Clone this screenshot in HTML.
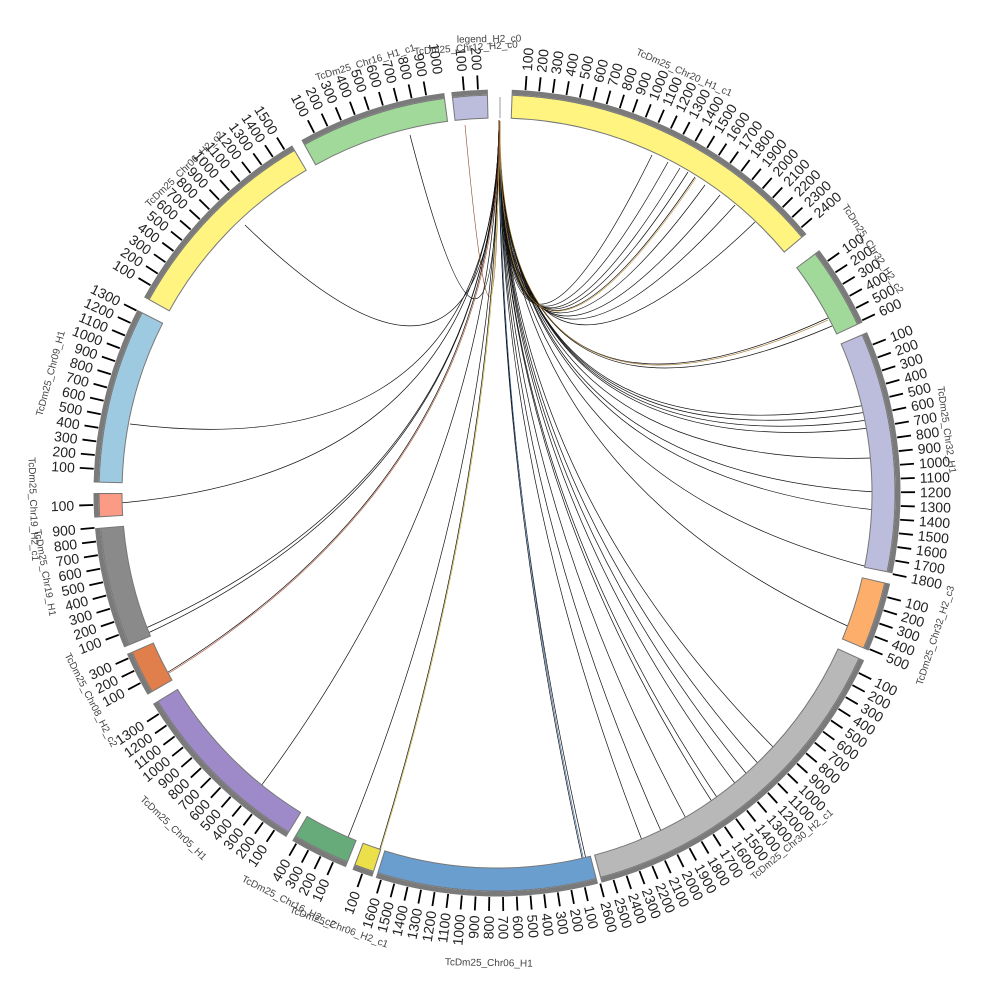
<!DOCTYPE html>
<html><head><meta charset="utf-8"><style>
html,body{margin:0;padding:0;background:#fff;width:1000px;height:1000px;overflow:hidden}
svg{display:block}
.n{font:14px "Liberation Sans",sans-serif;fill:#222}
.c{font:10px "Liberation Sans",sans-serif;fill:#444}
.l{fill:none;stroke:#111;stroke-width:0.7}
.lc{fill:none;stroke-width:0.6}
</style></head><body>
<svg width="1000" height="1000" viewBox="0 0 1000 1000" xmlns="http://www.w3.org/2000/svg">
<g>
<path class="l" d="M499 120 Q497 470 652 155"/>
<path class="l" d="M499 120 Q497 470 668 162"/>
<path class="l" d="M499 120 Q497 470 680 168"/>
<path class="l" d="M499 120 Q497 470 688 172"/>
<path class="l" d="M499 120 Q497 470 695 177"/>
<path class="l" d="M499 120 Q497 470 705 185"/>
<path class="l" d="M499 120 Q497 470 720 195"/>
<path class="l" d="M499 120 Q497 470 735 205"/>
<path class="l" d="M499 120 Q497 470 755 222"/>
<path class="l" d="M499 120 Q497 470 828 318"/>
<path class="l" d="M499 120 Q497 470 832 326"/>
<path class="l" d="M499 120 Q497 470 866 405"/>
<path class="l" d="M499 120 Q497 470 867 412"/>
<path class="l" d="M499 120 Q497 470 868 420"/>
<path class="l" d="M499 120 Q497 470 870 428"/>
<path class="l" d="M499 120 Q497 470 873 458"/>
<path class="l" d="M499 120 Q497 470 876 492"/>
<path class="l" d="M499 120 Q497 470 876 510"/>
<path class="l" d="M499 120 Q497 470 868 567"/>
<path class="l" d="M499 120 Q497 470 852 628"/>
<path class="l" d="M499 120 Q497 470 778 752"/>
<path class="l" d="M499 120 Q497 470 762 768"/>
<path class="l" d="M499 120 Q497 470 750 778"/>
<path class="l" d="M499 120 Q497 470 740 790"/>
<path class="l" d="M499 120 Q497 470 722 805"/>
<path class="l" d="M499 120 Q497 470 716 808"/>
<path class="l" d="M499 120 Q497 470 690 826"/>
<path class="l" d="M499 120 Q497 470 665 840"/>
<path class="l" d="M499 120 Q497 470 645 848"/>
<path class="l" d="M499 120 Q497 470 588 868"/>
<path class="l" d="M499 120 Q497 470 584 867"/>
<path class="l" d="M499 120 Q497 470 410 135"/>
<path class="l" d="M499 120 Q497 470 245 225"/>
<path class="l" d="M499 120 Q497 470 130 424"/>
<path class="l" d="M499 120 Q497 470 120 503"/>
<path class="l" d="M499 120 Q497 470 146 628"/>
<path class="l" d="M499 120 Q497 470 148 633"/>
<path class="l" d="M499 120 Q497 470 165 674"/>
<path class="l" d="M499 120 Q497 470 258 790"/>
<path class="l" d="M499 120 Q497 470 345 845"/>
<path class="l" d="M499 120 Q497 470 378 855"/>
<path class="lc" stroke="#8b4a2b" stroke-width="1.5" d="M499 120 Q497 470 465 125"/>
<path class="lc" stroke="#c8b030" d="M500 121 Q498 470 379 855"/>
<path class="lc" stroke="#b05030" d="M500 121 Q498 470 166 675"/>
<path class="lc" stroke="#3060a0" d="M500 121 Q498 470 585 866"/>
<path class="lc" stroke="#a07020" d="M500 121 Q498 470 828 320"/>
<path class="lc" stroke="#c09030" d="M500 121 Q498 470 696 178"/>
</g>
<line x1="500" y1="97" x2="500" y2="118" stroke="#999" stroke-width="1"/>
<g fill="none">
<g transform="rotate(-87.9 497 493)"><circle cx="497" cy="493" r="386.5" pathLength="360" stroke="#777" stroke-width="24" stroke-dasharray="48 400"/><circle cx="497" cy="493" r="386.5" pathLength="360" stroke="#fff480" stroke-width="22" stroke-dasharray="47.7 400" stroke-dashoffset="-0.15"/><circle cx="497" cy="493" r="401" pathLength="360" stroke="#7a7a7a" stroke-width="5" stroke-dasharray="48 400"/><circle cx="497" cy="493" r="411" pathLength="360" stroke="#000" stroke-width="14" stroke-dasharray="0 1.825 0.25 1.7 0.25 1.7 0.25 1.7 0.25 1.7 0.25 1.7 0.25 1.7 0.25 1.7 0.25 1.7 0.25 1.7 0.25 1.7 0.25 1.7 0.25 1.7 0.25 1.7 0.25 1.7 0.25 1.7 0.25 1.7 0.25 1.7 0.25 1.7 0.25 1.7 0.25 1.7 0.25 1.7 0.25 1.7 0.25 1.7 0.25 400"/></g>
<g transform="rotate(-37 497 493)"><circle cx="497" cy="493" r="386.5" pathLength="360" stroke="#777" stroke-width="24" stroke-dasharray="12 400"/><circle cx="497" cy="493" r="386.5" pathLength="360" stroke="#a1d99b" stroke-width="22" stroke-dasharray="11.7 400" stroke-dashoffset="-0.15"/><circle cx="497" cy="493" r="401" pathLength="360" stroke="#7a7a7a" stroke-width="5" stroke-dasharray="12 400"/><circle cx="497" cy="493" r="411" pathLength="360" stroke="#000" stroke-width="14" stroke-dasharray="0 1.825 0.25 1.7 0.25 1.7 0.25 1.7 0.25 1.7 0.25 1.7 0.25 400"/></g>
<g transform="rotate(-23.5 497 493)"><circle cx="497" cy="493" r="386.5" pathLength="360" stroke="#777" stroke-width="24" stroke-dasharray="35 400"/><circle cx="497" cy="493" r="386.5" pathLength="360" stroke="#bcbddc" stroke-width="22" stroke-dasharray="34.7 400" stroke-dashoffset="-0.15"/><circle cx="497" cy="493" r="401" pathLength="360" stroke="#7a7a7a" stroke-width="5" stroke-dasharray="35 400"/><circle cx="497" cy="493" r="411" pathLength="360" stroke="#000" stroke-width="14" stroke-dasharray="0 1.825 0.25 1.7 0.25 1.7 0.25 1.7 0.25 1.7 0.25 1.7 0.25 1.7 0.25 1.7 0.25 1.7 0.25 1.7 0.25 1.7 0.25 1.7 0.25 1.7 0.25 1.7 0.25 1.7 0.25 1.7 0.25 1.7 0.25 1.7 0.25 400"/></g>
<g transform="rotate(13 497 493)"><circle cx="497" cy="493" r="386.5" pathLength="360" stroke="#777" stroke-width="24" stroke-dasharray="10 400"/><circle cx="497" cy="493" r="386.5" pathLength="360" stroke="#fdae6b" stroke-width="22" stroke-dasharray="9.7 400" stroke-dashoffset="-0.15"/><circle cx="497" cy="493" r="401" pathLength="360" stroke="#7a7a7a" stroke-width="5" stroke-dasharray="10 400"/><circle cx="497" cy="493" r="411" pathLength="360" stroke="#000" stroke-width="14" stroke-dasharray="0 1.825 0.25 1.7 0.25 1.7 0.25 1.7 0.25 1.7 0.25 400"/></g>
<g transform="rotate(24.5 497 493)"><circle cx="497" cy="493" r="386.5" pathLength="360" stroke="#777" stroke-width="24" stroke-dasharray="50.5 400"/><circle cx="497" cy="493" r="386.5" pathLength="360" stroke="#b8b8b8" stroke-width="22" stroke-dasharray="50.2 400" stroke-dashoffset="-0.15"/><circle cx="497" cy="493" r="401" pathLength="360" stroke="#7a7a7a" stroke-width="5" stroke-dasharray="50.5 400"/><circle cx="497" cy="493" r="411" pathLength="360" stroke="#000" stroke-width="14" stroke-dasharray="0 1.825 0.25 1.7 0.25 1.7 0.25 1.7 0.25 1.7 0.25 1.7 0.25 1.7 0.25 1.7 0.25 1.7 0.25 1.7 0.25 1.7 0.25 1.7 0.25 1.7 0.25 1.7 0.25 1.7 0.25 1.7 0.25 1.7 0.25 1.7 0.25 1.7 0.25 1.7 0.25 1.7 0.25 1.7 0.25 1.7 0.25 1.7 0.25 1.7 0.25 1.7 0.25 400"/></g>
<g transform="rotate(75.5 497 493)"><circle cx="497" cy="493" r="386.5" pathLength="360" stroke="#777" stroke-width="24" stroke-dasharray="32 400"/><circle cx="497" cy="493" r="386.5" pathLength="360" stroke="#6a9ecf" stroke-width="22" stroke-dasharray="31.7 400" stroke-dashoffset="-0.15"/><circle cx="497" cy="493" r="401" pathLength="360" stroke="#7a7a7a" stroke-width="5" stroke-dasharray="32 400"/><circle cx="497" cy="493" r="411" pathLength="360" stroke="#000" stroke-width="14" stroke-dasharray="0 1.825 0.25 1.7 0.25 1.7 0.25 1.7 0.25 1.7 0.25 1.7 0.25 1.7 0.25 1.7 0.25 1.7 0.25 1.7 0.25 1.7 0.25 1.7 0.25 1.7 0.25 1.7 0.25 1.7 0.25 1.7 0.25 400"/></g>
<g transform="rotate(108 497 493)"><circle cx="497" cy="493" r="386.5" pathLength="360" stroke="#777" stroke-width="24" stroke-dasharray="3 400"/><circle cx="497" cy="493" r="386.5" pathLength="360" stroke="#ebdf4a" stroke-width="22" stroke-dasharray="2.7 400" stroke-dashoffset="-0.15"/><circle cx="497" cy="493" r="401" pathLength="360" stroke="#7a7a7a" stroke-width="5" stroke-dasharray="3 400"/><circle cx="497" cy="493" r="411" pathLength="360" stroke="#000" stroke-width="14" stroke-dasharray="0 1.375 0.25 400"/></g>
<g transform="rotate(112 497 493)"><circle cx="497" cy="493" r="386.5" pathLength="360" stroke="#777" stroke-width="24" stroke-dasharray="8.5 400"/><circle cx="497" cy="493" r="386.5" pathLength="360" stroke="#66ab79" stroke-width="22" stroke-dasharray="8.2 400" stroke-dashoffset="-0.15"/><circle cx="497" cy="493" r="401" pathLength="360" stroke="#7a7a7a" stroke-width="5" stroke-dasharray="8.5 400"/><circle cx="497" cy="493" r="411" pathLength="360" stroke="#000" stroke-width="14" stroke-dasharray="0 1.825 0.25 1.7 0.25 1.7 0.25 1.7 0.25 400"/></g>
<g transform="rotate(121.5 497 493)"><circle cx="497" cy="493" r="386.5" pathLength="360" stroke="#777" stroke-width="24" stroke-dasharray="27 400"/><circle cx="497" cy="493" r="386.5" pathLength="360" stroke="#9e8ac8" stroke-width="22" stroke-dasharray="26.7 400" stroke-dashoffset="-0.15"/><circle cx="497" cy="493" r="401" pathLength="360" stroke="#7a7a7a" stroke-width="5" stroke-dasharray="27 400"/><circle cx="497" cy="493" r="411" pathLength="360" stroke="#000" stroke-width="14" stroke-dasharray="0 1.825 0.25 1.7 0.25 1.7 0.25 1.7 0.25 1.7 0.25 1.7 0.25 1.7 0.25 1.7 0.25 1.7 0.25 1.7 0.25 1.7 0.25 1.7 0.25 1.7 0.25 400"/></g>
<g transform="rotate(150 497 493)"><circle cx="497" cy="493" r="386.5" pathLength="360" stroke="#777" stroke-width="24" stroke-dasharray="6.5 400"/><circle cx="497" cy="493" r="386.5" pathLength="360" stroke="#e07f4b" stroke-width="22" stroke-dasharray="6.2 400" stroke-dashoffset="-0.15"/><circle cx="497" cy="493" r="401" pathLength="360" stroke="#7a7a7a" stroke-width="5" stroke-dasharray="6.5 400"/><circle cx="497" cy="493" r="411" pathLength="360" stroke="#000" stroke-width="14" stroke-dasharray="0 1.825 0.25 1.7 0.25 1.7 0.25 400"/></g>
<g transform="rotate(157.5 497 493)"><circle cx="497" cy="493" r="386.5" pathLength="360" stroke="#777" stroke-width="24" stroke-dasharray="17.5 400"/><circle cx="497" cy="493" r="386.5" pathLength="360" stroke="#8a8a8a" stroke-width="22" stroke-dasharray="17.2 400" stroke-dashoffset="-0.15"/><circle cx="497" cy="493" r="401" pathLength="360" stroke="#7a7a7a" stroke-width="5" stroke-dasharray="17.5 400"/><circle cx="497" cy="493" r="411" pathLength="360" stroke="#000" stroke-width="14" stroke-dasharray="0 1.825 0.25 1.7 0.25 1.7 0.25 1.7 0.25 1.7 0.25 1.7 0.25 1.7 0.25 1.7 0.25 1.7 0.25 400"/></g>
<g transform="rotate(176.5 497 493)"><circle cx="497" cy="493" r="386.5" pathLength="360" stroke="#777" stroke-width="24" stroke-dasharray="3.5 400"/><circle cx="497" cy="493" r="386.5" pathLength="360" stroke="#fb9a85" stroke-width="22" stroke-dasharray="3.2 400" stroke-dashoffset="-0.15"/><circle cx="497" cy="493" r="401" pathLength="360" stroke="#7a7a7a" stroke-width="5" stroke-dasharray="3.5 400"/><circle cx="497" cy="493" r="411" pathLength="360" stroke="#000" stroke-width="14" stroke-dasharray="0 1.675 0.25 400"/></g>
<g transform="rotate(181.5 497 493)"><circle cx="497" cy="493" r="386.5" pathLength="360" stroke="#777" stroke-width="24" stroke-dasharray="25.5 400"/><circle cx="497" cy="493" r="386.5" pathLength="360" stroke="#9ecae1" stroke-width="22" stroke-dasharray="25.2 400" stroke-dashoffset="-0.15"/><circle cx="497" cy="493" r="401" pathLength="360" stroke="#7a7a7a" stroke-width="5" stroke-dasharray="25.5 400"/><circle cx="497" cy="493" r="411" pathLength="360" stroke="#000" stroke-width="14" stroke-dasharray="0 1.825 0.25 1.7 0.25 1.7 0.25 1.7 0.25 1.7 0.25 1.7 0.25 1.7 0.25 1.7 0.25 1.7 0.25 1.7 0.25 1.7 0.25 1.7 0.25 1.7 0.25 400"/></g>
<g transform="rotate(209 497 493)"><circle cx="497" cy="493" r="386.5" pathLength="360" stroke="#777" stroke-width="24" stroke-dasharray="30.5 400"/><circle cx="497" cy="493" r="386.5" pathLength="360" stroke="#fff480" stroke-width="22" stroke-dasharray="30.2 400" stroke-dashoffset="-0.15"/><circle cx="497" cy="493" r="401" pathLength="360" stroke="#7a7a7a" stroke-width="5" stroke-dasharray="30.5 400"/><circle cx="497" cy="493" r="411" pathLength="360" stroke="#000" stroke-width="14" stroke-dasharray="0 1.825 0.25 1.7 0.25 1.7 0.25 1.7 0.25 1.7 0.25 1.7 0.25 1.7 0.25 1.7 0.25 1.7 0.25 1.7 0.25 1.7 0.25 1.7 0.25 1.7 0.25 1.7 0.25 1.7 0.25 400"/></g>
<g transform="rotate(241 497 493)"><circle cx="497" cy="493" r="386.5" pathLength="360" stroke="#777" stroke-width="24" stroke-dasharray="21.5 400"/><circle cx="497" cy="493" r="386.5" pathLength="360" stroke="#a1d99b" stroke-width="22" stroke-dasharray="21.2 400" stroke-dashoffset="-0.15"/><circle cx="497" cy="493" r="401" pathLength="360" stroke="#7a7a7a" stroke-width="5" stroke-dasharray="21.5 400"/><circle cx="497" cy="493" r="411" pathLength="360" stroke="#000" stroke-width="14" stroke-dasharray="0 1.975 0.25 1.85 0.25 1.85 0.25 1.85 0.25 1.85 0.25 1.85 0.25 1.85 0.25 1.85 0.25 1.85 0.25 400"/></g>
<g transform="rotate(263.5 497 493)"><circle cx="497" cy="493" r="386.5" pathLength="360" stroke="#777" stroke-width="24" stroke-dasharray="5.2 400"/><circle cx="497" cy="493" r="386.5" pathLength="360" stroke="#bcbddc" stroke-width="22" stroke-dasharray="4.9 400" stroke-dashoffset="-0.15"/><circle cx="497" cy="493" r="401" pathLength="360" stroke="#7a7a7a" stroke-width="5" stroke-dasharray="5.2 400"/><circle cx="497" cy="493" r="411" pathLength="360" stroke="#000" stroke-width="14" stroke-dasharray="0 1.675 0.25 1.75 0.25 400"/></g>
</g>
<g class="n">
<text transform="rotate(-85.95 497 493)" x="920" y="498">100</text>
<text transform="rotate(-84 497 493)" x="920" y="498">200</text>
<text transform="rotate(-82.05 497 493)" x="920" y="498">300</text>
<text transform="rotate(-80.1 497 493)" x="920" y="498">400</text>
<text transform="rotate(-78.15 497 493)" x="920" y="498">500</text>
<text transform="rotate(-76.2 497 493)" x="920" y="498">600</text>
<text transform="rotate(-74.25 497 493)" x="920" y="498">700</text>
<text transform="rotate(-72.3 497 493)" x="920" y="498">800</text>
<text transform="rotate(-70.35 497 493)" x="920" y="498">900</text>
<text transform="rotate(-68.4 497 493)" x="920" y="498">1000</text>
<text transform="rotate(-66.45 497 493)" x="920" y="498">1100</text>
<text transform="rotate(-64.5 497 493)" x="920" y="498">1200</text>
<text transform="rotate(-62.55 497 493)" x="920" y="498">1300</text>
<text transform="rotate(-60.6 497 493)" x="920" y="498">1400</text>
<text transform="rotate(-58.65 497 493)" x="920" y="498">1500</text>
<text transform="rotate(-56.7 497 493)" x="920" y="498">1600</text>
<text transform="rotate(-54.75 497 493)" x="920" y="498">1700</text>
<text transform="rotate(-52.8 497 493)" x="920" y="498">1800</text>
<text transform="rotate(-50.85 497 493)" x="920" y="498">1900</text>
<text transform="rotate(-48.9 497 493)" x="920" y="498">2000</text>
<text transform="rotate(-46.95 497 493)" x="920" y="498">2100</text>
<text transform="rotate(-45 497 493)" x="920" y="498">2200</text>
<text transform="rotate(-43.05 497 493)" x="920" y="498">2300</text>
<text transform="rotate(-41.1 497 493)" x="920" y="498">2400</text>
<text transform="rotate(-35.05 497 493)" x="920" y="498">100</text>
<text transform="rotate(-33.1 497 493)" x="920" y="498">200</text>
<text transform="rotate(-31.15 497 493)" x="920" y="498">300</text>
<text transform="rotate(-29.2 497 493)" x="920" y="498">400</text>
<text transform="rotate(-27.25 497 493)" x="920" y="498">500</text>
<text transform="rotate(-25.3 497 493)" x="920" y="498">600</text>
<text transform="rotate(-21.55 497 493)" x="920" y="498">100</text>
<text transform="rotate(-19.6 497 493)" x="920" y="498">200</text>
<text transform="rotate(-17.65 497 493)" x="920" y="498">300</text>
<text transform="rotate(-15.7 497 493)" x="920" y="498">400</text>
<text transform="rotate(-13.75 497 493)" x="920" y="498">500</text>
<text transform="rotate(-11.8 497 493)" x="920" y="498">600</text>
<text transform="rotate(-9.85 497 493)" x="920" y="498">700</text>
<text transform="rotate(-7.9 497 493)" x="920" y="498">800</text>
<text transform="rotate(-5.95 497 493)" x="920" y="498">900</text>
<text transform="rotate(-4 497 493)" x="920" y="498">1000</text>
<text transform="rotate(-2.05 497 493)" x="920" y="498">1100</text>
<text transform="rotate(-0.1 497 493)" x="920" y="498">1200</text>
<text transform="rotate(1.85 497 493)" x="920" y="498">1300</text>
<text transform="rotate(3.8 497 493)" x="920" y="498">1400</text>
<text transform="rotate(5.75 497 493)" x="920" y="498">1500</text>
<text transform="rotate(7.7 497 493)" x="920" y="498">1600</text>
<text transform="rotate(9.65 497 493)" x="920" y="498">1700</text>
<text transform="rotate(11.6 497 493)" x="920" y="498">1800</text>
<text transform="rotate(14.95 497 493)" x="920" y="498">100</text>
<text transform="rotate(16.9 497 493)" x="920" y="498">200</text>
<text transform="rotate(18.85 497 493)" x="920" y="498">300</text>
<text transform="rotate(20.8 497 493)" x="920" y="498">400</text>
<text transform="rotate(22.75 497 493)" x="920" y="498">500</text>
<text transform="rotate(26.45 497 493)" x="920" y="498">100</text>
<text transform="rotate(28.4 497 493)" x="920" y="498">200</text>
<text transform="rotate(30.35 497 493)" x="920" y="498">300</text>
<text transform="rotate(32.3 497 493)" x="920" y="498">400</text>
<text transform="rotate(34.25 497 493)" x="920" y="498">500</text>
<text transform="rotate(36.2 497 493)" x="920" y="498">600</text>
<text transform="rotate(38.15 497 493)" x="920" y="498">700</text>
<text transform="rotate(40.1 497 493)" x="920" y="498">800</text>
<text transform="rotate(42.05 497 493)" x="920" y="498">900</text>
<text transform="rotate(44 497 493)" x="920" y="498">1000</text>
<text transform="rotate(45.95 497 493)" x="920" y="498">1100</text>
<text transform="rotate(47.9 497 493)" x="920" y="498">1200</text>
<text transform="rotate(49.85 497 493)" x="920" y="498">1300</text>
<text transform="rotate(51.8 497 493)" x="920" y="498">1400</text>
<text transform="rotate(53.75 497 493)" x="920" y="498">1500</text>
<text transform="rotate(55.7 497 493)" x="920" y="498">1600</text>
<text transform="rotate(57.65 497 493)" x="920" y="498">1700</text>
<text transform="rotate(59.6 497 493)" x="920" y="498">1800</text>
<text transform="rotate(61.55 497 493)" x="920" y="498">1900</text>
<text transform="rotate(63.5 497 493)" x="920" y="498">2000</text>
<text transform="rotate(65.45 497 493)" x="920" y="498">2100</text>
<text transform="rotate(67.4 497 493)" x="920" y="498">2200</text>
<text transform="rotate(69.35 497 493)" x="920" y="498">2300</text>
<text transform="rotate(71.3 497 493)" x="920" y="498">2400</text>
<text transform="rotate(73.25 497 493)" x="920" y="498">2500</text>
<text transform="rotate(75.2 497 493)" x="920" y="498">2600</text>
<text transform="rotate(77.45 497 493)" x="920" y="498">100</text>
<text transform="rotate(79.4 497 493)" x="920" y="498">200</text>
<text transform="rotate(81.35 497 493)" x="920" y="498">300</text>
<text transform="rotate(83.3 497 493)" x="920" y="498">400</text>
<text transform="rotate(85.25 497 493)" x="920" y="498">500</text>
<text transform="rotate(87.2 497 493)" x="920" y="498">600</text>
<text transform="rotate(89.15 497 493)" x="920" y="498">700</text>
</g>
<g class="n" text-anchor="end">
<text transform="rotate(271.1 497 493)" x="74" y="498">800</text>
<text transform="rotate(273.05 497 493)" x="74" y="498">900</text>
<text transform="rotate(275 497 493)" x="74" y="498">1000</text>
<text transform="rotate(276.95 497 493)" x="74" y="498">1100</text>
<text transform="rotate(278.9 497 493)" x="74" y="498">1200</text>
<text transform="rotate(280.85 497 493)" x="74" y="498">1300</text>
<text transform="rotate(282.8 497 493)" x="74" y="498">1400</text>
<text transform="rotate(284.75 497 493)" x="74" y="498">1500</text>
<text transform="rotate(286.7 497 493)" x="74" y="498">1600</text>
<text transform="rotate(289.5 497 493)" x="74" y="498">100</text>
<text transform="rotate(293.95 497 493)" x="74" y="498">100</text>
<text transform="rotate(295.9 497 493)" x="74" y="498">200</text>
<text transform="rotate(297.85 497 493)" x="74" y="498">300</text>
<text transform="rotate(299.8 497 493)" x="74" y="498">400</text>
<text transform="rotate(303.45 497 493)" x="74" y="498">100</text>
<text transform="rotate(305.4 497 493)" x="74" y="498">200</text>
<text transform="rotate(307.35 497 493)" x="74" y="498">300</text>
<text transform="rotate(309.3 497 493)" x="74" y="498">400</text>
<text transform="rotate(311.25 497 493)" x="74" y="498">500</text>
<text transform="rotate(313.2 497 493)" x="74" y="498">600</text>
<text transform="rotate(315.15 497 493)" x="74" y="498">700</text>
<text transform="rotate(317.1 497 493)" x="74" y="498">800</text>
<text transform="rotate(319.05 497 493)" x="74" y="498">900</text>
<text transform="rotate(321 497 493)" x="74" y="498">1000</text>
<text transform="rotate(322.95 497 493)" x="74" y="498">1100</text>
<text transform="rotate(324.9 497 493)" x="74" y="498">1200</text>
<text transform="rotate(326.85 497 493)" x="74" y="498">1300</text>
<text transform="rotate(331.95 497 493)" x="74" y="498">100</text>
<text transform="rotate(333.9 497 493)" x="74" y="498">200</text>
<text transform="rotate(335.85 497 493)" x="74" y="498">300</text>
<text transform="rotate(339.45 497 493)" x="74" y="498">100</text>
<text transform="rotate(341.4 497 493)" x="74" y="498">200</text>
<text transform="rotate(343.35 497 493)" x="74" y="498">300</text>
<text transform="rotate(345.3 497 493)" x="74" y="498">400</text>
<text transform="rotate(347.25 497 493)" x="74" y="498">500</text>
<text transform="rotate(349.2 497 493)" x="74" y="498">600</text>
<text transform="rotate(351.15 497 493)" x="74" y="498">700</text>
<text transform="rotate(353.1 497 493)" x="74" y="498">800</text>
<text transform="rotate(355.05 497 493)" x="74" y="498">900</text>
<text transform="rotate(358.3 497 493)" x="74" y="498">100</text>
<text transform="rotate(3.45 497 493)" x="74" y="498">100</text>
<text transform="rotate(5.4 497 493)" x="74" y="498">200</text>
<text transform="rotate(7.35 497 493)" x="74" y="498">300</text>
<text transform="rotate(9.3 497 493)" x="74" y="498">400</text>
<text transform="rotate(11.25 497 493)" x="74" y="498">500</text>
<text transform="rotate(13.2 497 493)" x="74" y="498">600</text>
<text transform="rotate(15.15 497 493)" x="74" y="498">700</text>
<text transform="rotate(17.1 497 493)" x="74" y="498">800</text>
<text transform="rotate(19.05 497 493)" x="74" y="498">900</text>
<text transform="rotate(21 497 493)" x="74" y="498">1000</text>
<text transform="rotate(22.95 497 493)" x="74" y="498">1100</text>
<text transform="rotate(24.9 497 493)" x="74" y="498">1200</text>
<text transform="rotate(26.85 497 493)" x="74" y="498">1300</text>
<text transform="rotate(30.95 497 493)" x="74" y="498">100</text>
<text transform="rotate(32.9 497 493)" x="74" y="498">200</text>
<text transform="rotate(34.85 497 493)" x="74" y="498">300</text>
<text transform="rotate(36.8 497 493)" x="74" y="498">400</text>
<text transform="rotate(38.75 497 493)" x="74" y="498">500</text>
<text transform="rotate(40.7 497 493)" x="74" y="498">600</text>
<text transform="rotate(42.65 497 493)" x="74" y="498">700</text>
<text transform="rotate(44.6 497 493)" x="74" y="498">800</text>
<text transform="rotate(46.55 497 493)" x="74" y="498">900</text>
<text transform="rotate(48.5 497 493)" x="74" y="498">1000</text>
<text transform="rotate(50.45 497 493)" x="74" y="498">1100</text>
<text transform="rotate(52.4 497 493)" x="74" y="498">1200</text>
<text transform="rotate(54.35 497 493)" x="74" y="498">1300</text>
<text transform="rotate(56.3 497 493)" x="74" y="498">1400</text>
<text transform="rotate(58.25 497 493)" x="74" y="498">1500</text>
<text transform="rotate(63.1 497 493)" x="74" y="498">100</text>
<text transform="rotate(65.2 497 493)" x="74" y="498">200</text>
<text transform="rotate(67.3 497 493)" x="74" y="498">300</text>
<text transform="rotate(69.4 497 493)" x="74" y="498">400</text>
<text transform="rotate(71.5 497 493)" x="74" y="498">500</text>
<text transform="rotate(73.6 497 493)" x="74" y="498">600</text>
<text transform="rotate(75.7 497 493)" x="74" y="498">700</text>
<text transform="rotate(77.8 497 493)" x="74" y="498">800</text>
<text transform="rotate(79.9 497 493)" x="74" y="498">900</text>
<text transform="rotate(82 497 493)" x="74" y="498">1000</text>
<text transform="rotate(85.3 497 493)" x="74" y="498">100</text>
<text transform="rotate(87.3 497 493)" x="74" y="498">200</text>
</g>
<g class="c" text-anchor="middle">
<text transform="rotate(24 497 493)" x="497" y="36">TcDm25_Chr20_H1_c1</text>
<text transform="rotate(57 497 493)" x="497" y="48">TcDm25_Chr32_H2_c2</text>
<text transform="rotate(82 497 493)" x="497" y="42">TcDm25_Chr32_H1</text>
<text transform="rotate(-72 497 493)" x="497" y="957">TcDm25_Chr32_H2_c3</text>
<text transform="rotate(-40 497 493)" x="497" y="955">TcDm25_Chr30_H2_c1</text>
<text transform="rotate(1 497 493)" x="497" y="966">TcDm25_Chr06_H1</text>
<text transform="rotate(20 497 493)" x="497" y="958">TcDm25_Chr06_H2_c1</text>
<text transform="rotate(27 497 493)" x="497" y="955">TcDm25_Chr16_H2_c2</text>
<text transform="rotate(44 497 493)" x="497" y="962">TcDm25_Chr05_H1</text>
<text transform="rotate(63 497 493)" x="497" y="952">TcDm25_Chr08_H2_c2</text>
<text transform="rotate(80 497 493)" x="497" y="955">TcDm25_Chr19_H1</text>
<text transform="rotate(88 497 493)" x="497" y="960">TcDm25_Chr19_H2_c1</text>
<text transform="rotate(285 497 493)" x="497" y="34">TcDm25_Chr09_H1</text>
<text transform="rotate(316 497 493)" x="497" y="46">TcDm25_Chr06_H2_c2</text>
<text transform="rotate(343 497 493)" x="497" y="46">TcDm25_Chr16_H1_c1</text>
<text transform="rotate(356 497 493)" x="497" y="50">TcDm25_Chr12_H2_c0</text>
<text transform="rotate(359 497 493)" x="497" y="42">legend_H2_c0</text>
</g>
</svg>
</body></html>
